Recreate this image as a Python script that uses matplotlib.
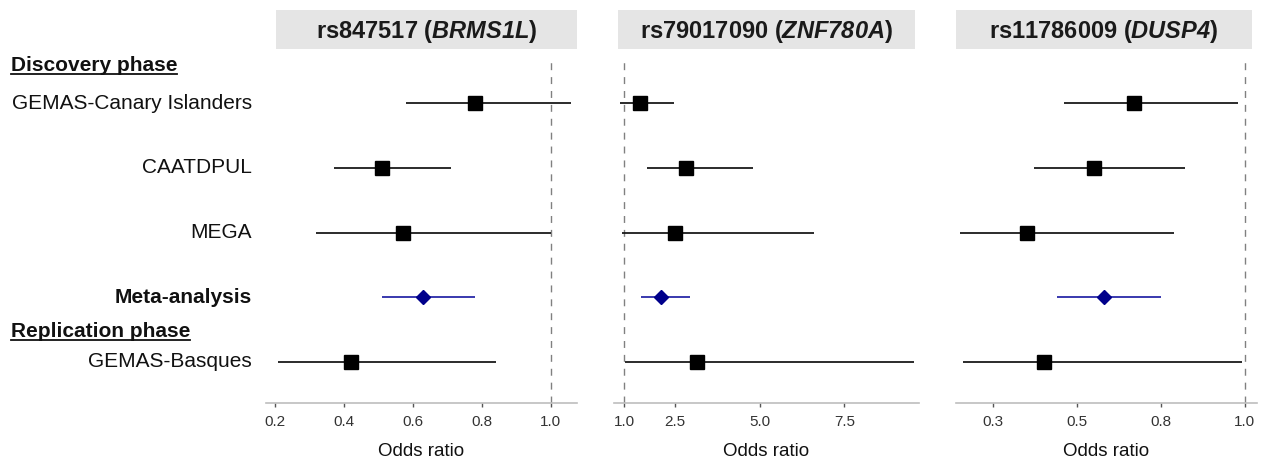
import matplotlib
matplotlib.use("Agg")
import matplotlib.pyplot as plt
from matplotlib.transforms import blended_transform_factory, offset_copy
from matplotlib.lines import Line2D

# ---------------- data ----------------
studies = ["GEMAS-Canary Islanders", "CAATDPUL", "MEGA", "Meta-analysis", "GEMAS-Basques"]
study_bold = [False, False, False, True, False]
headers = ["Discovery phase", "Replication phase"]

snps = ["rs847517", "rs79017090", "rs11786009"]
genes = ["BRMS1L", "ZNF780A", "DUSP4"]

or_brms1l = [0.78, 0.51, 0.57, 0.63, 0.42]
lo_brms1l = [0.58, 0.37, 0.32, 0.51, 0.21]
hi_brms1l = [1.06, 0.71, 1.00, 0.78, 0.84]

or_znf780a = [1.48, 2.84, 2.49, 2.09, 3.15]
lo_znf780a = [0.89, 1.69, 0.95, 1.49, 1.02]
hi_znf780a = [2.47, 4.81, 6.60, 2.94, 9.54]

or_dusp4 = [0.67, 0.55, 0.35, 0.58, 0.40]
lo_dusp4 = [0.46, 0.37, 0.15, 0.44, 0.16]
hi_dusp4 = [0.98, 0.82, 0.79, 0.75, 0.99]

ticks_brms1l = [0.2, 0.4, 0.6, 0.8, 1.0]
ticklabels_brms1l = ["0.2", "0.4", "0.6", "0.8", "1.0"]
ticks_znf780a = [1.0, 2.5, 5.0, 7.5]
ticklabels_znf780a = ["1.0", "2.5", "5.0", "7.5"]
ticks_dusp4 = [0.25, 0.5, 0.75, 1.0]
ticklabels_dusp4 = ["0.3", "0.5", "0.8", "1.0"]

# ---------------- style ----------------
plt.rcParams['font.family'] = ['Liberation Sans', 'DejaVu Sans']
plt.rcParams['mathtext.fontset'] = 'custom'
plt.rcParams['mathtext.it'] = 'Liberation Sans:italic:bold'
plt.rcParams['mathtext.rm'] = 'Liberation Sans:italic:bold'
plt.rcParams['mathtext.bf'] = 'Liberation Sans:italic:bold'

W, H = 1263, 459
fig = plt.figure(figsize=(W / 100, H / 100), dpi=100)

def fx(px):
    return px / W

def fy(py):
    return 1 - py / H

ax_top, ax_bot = 60, 402.7
panels_px = [(266, 577), (614, 919), (956, 1257)]
strips_px = [(276, 577), (618, 915), (956, 1252)]
strip_top, strip_bot = 10, 49
xlims = [(0.174, 1.076), (0.705, 9.70), (0.139, 1.036)]

ors = [or_brms1l, or_znf780a, or_dusp4]
los = [lo_brms1l, lo_znf780a, lo_dusp4]
his = [hi_brms1l, hi_znf780a, hi_dusp4]
ticks = [ticks_brms1l, ticks_znf780a, ticks_dusp4]
ticklabels = [ticklabels_brms1l, ticklabels_znf780a, ticklabels_dusp4]

n = len(studies)
ypos = list(range(n, 0, -1))  # 5..1
ylim = (0.37, 5.67)

axes = []
for i in range(3):
    l, r = panels_px[i]
    ax = fig.add_axes([fx(l), fy(ax_bot), fx(r) - fx(l), fy(ax_top) - fy(ax_bot)])
    axes.append(ax)
    ax.set_xlim(*xlims[i])
    ax.set_ylim(*ylim)
    ax.axvline(1.0, color='#808080', lw=1.0, ls=(0, (5, 5)), zorder=1)
    for j in range(n):
        meta = studies[j] == "Meta-analysis"
        lc = '#2a2aa8' if meta else '#1a1a1a'
        ax.plot([los[i][j], his[i][j]], [ypos[j], ypos[j]], color=lc, lw=1.3,
                solid_capstyle='butt', zorder=2)
        if meta:
            ax.plot(ors[i][j], ypos[j], marker='D', ms=7, color='#00008B',
                    mec='#00008B', zorder=3)
        else:
            ax.plot(ors[i][j], ypos[j], marker='s', ms=10, color='black',
                    mec='black', zorder=3)
    for s in ['top', 'left', 'right']:
        ax.spines[s].set_visible(False)
    ax.spines['bottom'].set_color('#bdbdbd')
    ax.spines['bottom'].set_linewidth(1.2)
    ax.set_yticks([])
    ax.set_xticks(ticks[i])
    ax.set_xticklabels(ticklabels[i])
    ax.tick_params(axis='x', length=3, width=1, color='#555555', labelsize=11,
                   labelcolor='#333333', pad=6)
    ax.set_xlabel("Odds ratio", fontsize=13.5, color='#111111', labelpad=10)

    # strip
    sl, sr = strips_px[i]
    sax = fig.add_axes([fx(sl), fy(strip_bot), fx(sr) - fx(sl), fy(strip_top) - fy(strip_bot)])
    sax.set_facecolor('#e5e5e5')
    sax.set_xticks([]); sax.set_yticks([])
    for s in sax.spines.values():
        s.set_visible(False)
    sax.text(0.5, 0.45, snps[i] + r" ($\mathrm{" + genes[i] + r"}$)",
             transform=sax.transAxes, ha='center', va='center',
             fontsize=17, fontweight='bold', color='#1a1a1a')

# row labels
ax0 = axes[0]
trans = blended_transform_factory(fig.transFigure, ax0.transData)
for j in range(n):
    ax0.text(fx(252), ypos[j], studies[j], transform=trans, ha='right', va='center',
             fontsize=15, fontweight='bold' if study_bold[j] else 'normal',
             color='#111111', clip_on=False)

header_y = [5.50, 1.39]
htexts = []
for h, yv in zip(headers, header_y):
    t = ax0.text(fx(11), yv, h, transform=trans, ha='left', va='baseline',
                 fontsize=15, fontweight='bold', color='#111111', clip_on=False)
    htexts.append((t, yv))

fig.canvas.draw()
renderer = fig.canvas.get_renderer()
for t, yv in htexts:
    bb = t.get_window_extent(renderer)
    x0, x1 = bb.x0 / W, bb.x1 / W
    ltrans = offset_copy(trans, fig=fig, x=0, y=-3.0, units='dots')
    line = Line2D([x0, x1], [yv, yv], transform=ltrans, color='#111111', lw=1.3,
                  clip_on=False)
    ax0.add_line(line)

fig.savefig("out.png", dpi=100)
